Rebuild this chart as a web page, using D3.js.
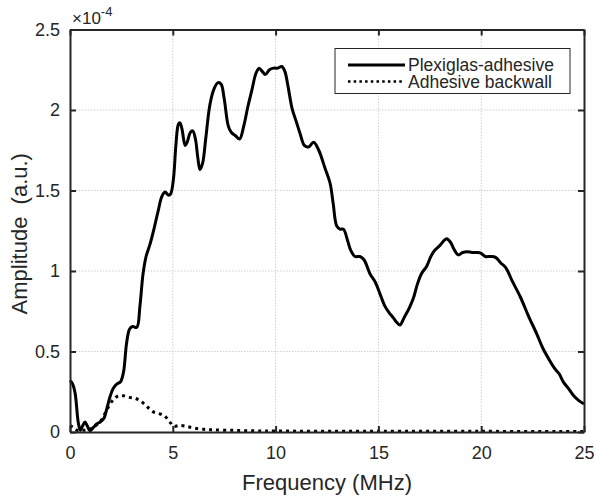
<!DOCTYPE html>
<html>
<head>
<meta charset="utf-8">
<script src="https://cdn.jsdelivr.net/npm/d3@7"></script>
<style>
  body { margin: 0; background: #fff; }
  text { font-family: Arial, "Liberation Sans", sans-serif; fill: #262626; }
</style>
</head>
<body>
<svg id="chart" width="596" height="500"></svg>
<script>
// Plexiglas-adhesive spectrum (amplitude in 1e-4 a.u.)
const plexiFreq = [0, 0.12, 0.25, 0.4, 0.5, 0.62, 0.73, 0.85, 0.97, 1.15, 1.3, 1.5, 1.65, 1.8, 1.95, 2.1, 2.3, 2.45, 2.6, 2.75,
  2.9, 3.05, 3.25, 3.4, 3.55, 3.7, 3.9, 4.1, 4.3, 4.46, 4.62, 4.8, 4.9, 5.03, 5.15, 5.27, 5.35, 5.45, 5.6, 5.7,
  5.85, 5.97, 6.1, 6.22, 6.32, 6.45, 6.6, 6.8, 7.0, 7.2, 7.35, 7.5, 7.7, 7.85, 8.05, 8.25, 8.45, 8.65, 8.84, 9.05,
  9.2, 9.35, 9.5, 9.7, 9.9, 10.1, 10.3, 10.45, 10.6, 10.8, 11.0, 11.2, 11.4, 11.6, 11.85, 12.1, 12.4, 12.65, 12.8, 12.97,
  13.13, 13.3, 13.5, 13.65, 13.86, 14.1, 14.3, 14.6, 14.85, 15.1, 15.32, 15.5, 15.72, 15.9, 16.05, 16.25, 16.5, 16.7, 16.9, 17.1,
  17.35, 17.55, 17.75, 18.0, 18.2, 18.32, 18.5, 18.7, 18.89, 19.1, 19.3, 19.55, 19.8, 20.0, 20.2, 20.45, 20.7, 20.95, 21.2, 21.5,
  21.9, 22.3, 22.7, 23.0, 23.35, 23.6, 23.8, 24.0, 24.25, 24.5, 24.75, 25.0];
const plexiAmp = [0.32, 0.30, 0.24, 0.06, 0.01, 0.04, 0.062, 0.035, 0.008, 0.03, 0.05, 0.065, 0.085, 0.15, 0.22, 0.27, 0.30, 0.31, 0.37, 0.55,
  0.64, 0.655, 0.65, 0.78, 0.98, 1.09, 1.17, 1.27, 1.38, 1.46, 1.49, 1.47, 1.48, 1.57, 1.78, 1.91, 1.92, 1.88, 1.78, 1.80,
  1.86, 1.87, 1.82, 1.70, 1.63, 1.67, 1.82, 2.03, 2.13, 2.17, 2.16, 2.07, 1.90, 1.86, 1.84, 1.82, 1.90, 2.02, 2.12, 2.23,
  2.26, 2.24, 2.22, 2.25, 2.26, 2.26, 2.27, 2.24, 2.15, 2.01, 1.93, 1.85, 1.78, 1.77, 1.80, 1.75, 1.64, 1.545, 1.42, 1.28,
  1.26, 1.26, 1.19, 1.13, 1.09, 1.09, 1.07, 0.98, 0.93, 0.85, 0.78, 0.745, 0.71, 0.68, 0.665, 0.71, 0.77, 0.83, 0.92, 0.985,
  1.03, 1.09, 1.13, 1.16, 1.19, 1.20, 1.18, 1.13, 1.10, 1.115, 1.12, 1.115, 1.115, 1.11, 1.09, 1.09, 1.085, 1.05, 1.02, 0.94,
  0.84, 0.72, 0.61, 0.52, 0.44, 0.39, 0.36, 0.31, 0.27, 0.225, 0.195, 0.175];

// Adhesive backwall spectrum
const backFreq = [0, 0.15, 0.35, 0.6, 0.9, 1.2, 1.5, 1.8, 2.1, 2.35, 2.6, 2.9, 3.15, 3.4, 3.6, 3.85, 4.05, 4.3, 4.55, 4.75,
  4.9, 5.05, 5.3, 5.6, 6.0, 6.5, 7.0, 8.0, 9.0, 10.0, 12.0, 15.0, 20.0, 25.0];
const backAmp = [0.04, 0.03, 0.01, 0.01, 0.015, 0.035, 0.07, 0.14, 0.2, 0.224, 0.225, 0.215, 0.21, 0.195, 0.175, 0.145, 0.125, 0.115, 0.105, 0.08,
  0.055, 0.035, 0.04, 0.037, 0.025, 0.017, 0.013, 0.01, 0.007, 0.006, 0.005, 0.004, 0.004, 0.003];

const xTicks = [0, 5, 10, 15, 20, 25];
const yTicks = [0, 0.5, 1, 1.5, 2, 2.5];
const seriesNames = ["Plexiglas-adhesive", "Adhesive backwall"];

const margin = {top: 29.5, right: 12, bottom: 68, left: 70};
const width = 596, height = 500;
const innerWidth = width - margin.left - margin.right;
const innerHeight = height - margin.top - margin.bottom;

const x = d3.scaleLinear([0, 25], [0, innerWidth]);
const y = d3.scaleLinear([0, 2.5], [innerHeight, 0]);

const svg = d3.select("#chart");
const g = svg.append("g").attr("transform", `translate(${margin.left},${margin.top})`);

// grid
g.append("g").selectAll("line")
  .data(xTicks.slice(1, -1))
  .join("line")
  .attr("x1", d => x(d)).attr("x2", d => x(d))
  .attr("y1", 0).attr("y2", innerHeight)
  .attr("stroke", "#cfcfcf").attr("stroke-width", 1).attr("stroke-dasharray", "1.5 1.5");
g.append("g").selectAll("line")
  .data(yTicks.slice(1, -1))
  .join("line")
  .attr("y1", d => y(d)).attr("y2", d => y(d))
  .attr("x1", 0).attr("x2", innerWidth)
  .attr("stroke", "#cfcfcf").attr("stroke-width", 1).attr("stroke-dasharray", "1.5 1.5");

const line = d3.line().curve(d3.curveCatmullRom.alpha(0.5));

g.append("path")
  .attr("d", line(plexiFreq.map((f, i) => [x(f), y(plexiAmp[i])])))
  .attr("fill", "none").attr("stroke", "#000").attr("stroke-width", 3)
  .attr("stroke-linejoin", "round");

g.append("path")
  .attr("d", line(backFreq.map((f, i) => [x(f), y(backAmp[i])])))
  .attr("fill", "none").attr("stroke", "#000").attr("stroke-width", 3)
  .attr("stroke-dasharray", "3 4");

// axes (box with inward ticks)
const axisColor = "#262626";
const xAxis = d3.axisBottom(x).tickValues(xTicks).tickSizeInner(-6).tickSizeOuter(0).tickPadding(14);
const yAxis = d3.axisLeft(y).tickValues(yTicks).tickSizeInner(-6).tickSizeOuter(0).tickPadding(10)
  .tickFormat(d => d);

const gx = g.append("g").attr("transform", `translate(0,${innerHeight})`).call(xAxis);
const gy = g.append("g").call(yAxis);
const gxTop = g.append("g").call(d3.axisTop(x).tickValues(xTicks).tickSizeInner(-6).tickSizeOuter(0).tickFormat(""));
const gyRight = g.append("g").attr("transform", `translate(${innerWidth},0)`)
  .call(d3.axisRight(y).tickValues(yTicks).tickSizeInner(-6).tickSizeOuter(0).tickFormat(""));

[gx, gy, gxTop, gyRight].forEach(a => {
  a.select(".domain").attr("stroke", axisColor).attr("stroke-width", 2);
  a.selectAll(".tick line").attr("stroke", axisColor).attr("stroke-width", 2);
  a.selectAll(".tick text").attr("fill", axisColor).style("font-size", "18px")
    .style("font-family", "Arial, 'Liberation Sans', sans-serif");
});

// exponent label
svg.append("text")
  .attr("x", margin.left + 2).attr("y", 24)
  .style("font-size", "17px")
  .text("\u00d710")
  .append("tspan").attr("dy", -8).style("font-size", "13px").text("-4");

// axis labels
svg.append("text")
  .attr("x", margin.left + innerWidth / 2).attr("y", 490)
  .attr("text-anchor", "middle").style("font-size", "22px")
  .text("Frequency (MHz)");

svg.append("text")
  .attr("transform", `translate(27,${margin.top + innerHeight / 2 + 3}) rotate(-90)`)
  .attr("text-anchor", "middle").style("font-size", "22px")
  .attr("xml:space", "preserve")
  .text("Amplitude  (a.u.)");

// legend
const legend = svg.append("g").attr("transform", "translate(335,48.5)");
legend.append("rect")
  .attr("width", 235).attr("height", 45)
  .attr("fill", "#fff").attr("stroke", axisColor).attr("stroke-width", 1);
seriesNames.forEach((name, i) => {
  const ly = 16.5 + i * 16.5;
  legend.append("line")
    .attr("x1", 13).attr("x2", 70).attr("y1", ly).attr("y2", ly)
    .attr("stroke", "#000").attr("stroke-width", i === 0 ? 3 : 2.5)
    .attr("stroke-dasharray", i === 0 ? null : "2.5 3.2");
  legend.append("text")
    .attr("x", 73).attr("y", ly + 6)
    .style("font-size", "17.5px")
    .text(name);
});
</script>
</body>
</html>
